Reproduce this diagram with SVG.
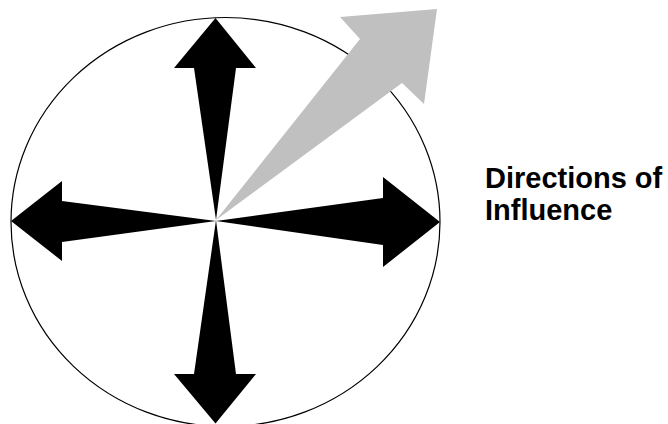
<svg xmlns="http://www.w3.org/2000/svg" width="668" height="424" viewBox="0 0 668 424">
<style>
.ring{fill:none;stroke:#000;stroke-width:1.2}
.blk{fill:#000}
.gry{fill:#c0c0c0}
.lbl{font-family:"Liberation Sans",Arial,sans-serif;font-weight:bold;font-size:29px;fill:#000}
</style>
<rect width="668" height="424" fill="#fff"/>
<g id="circle"><ellipse class="ring" cx="225.5" cy="222" rx="214.5" ry="204.5"/></g>
<g id="connectors">
<polygon id="arrow-ne" class="gry" points="216,220 360,39 340,17 437,9 424,104 402,83"/>
<polygon id="arrow-up" class="blk" points="216,220 236,68 256,68 215.5,18 174,68 194,68"/>
<polygon id="arrow-down" class="blk" points="216,220 236,374 256,374 215.5,423.5 174,374 194,374"/>
<polygon id="arrow-left" class="blk" points="216,221 62,242 62,261 11,221 62,181 62,201"/>
<polygon id="arrow-right" class="blk" points="216,221 383,198 383,177 440,222 383,267 383,245"/>
</g>
<g id="label"><text class="lbl" x="485" y="188">Directions of</text><text class="lbl" x="485" y="220">Influence</text></g>
</svg>
